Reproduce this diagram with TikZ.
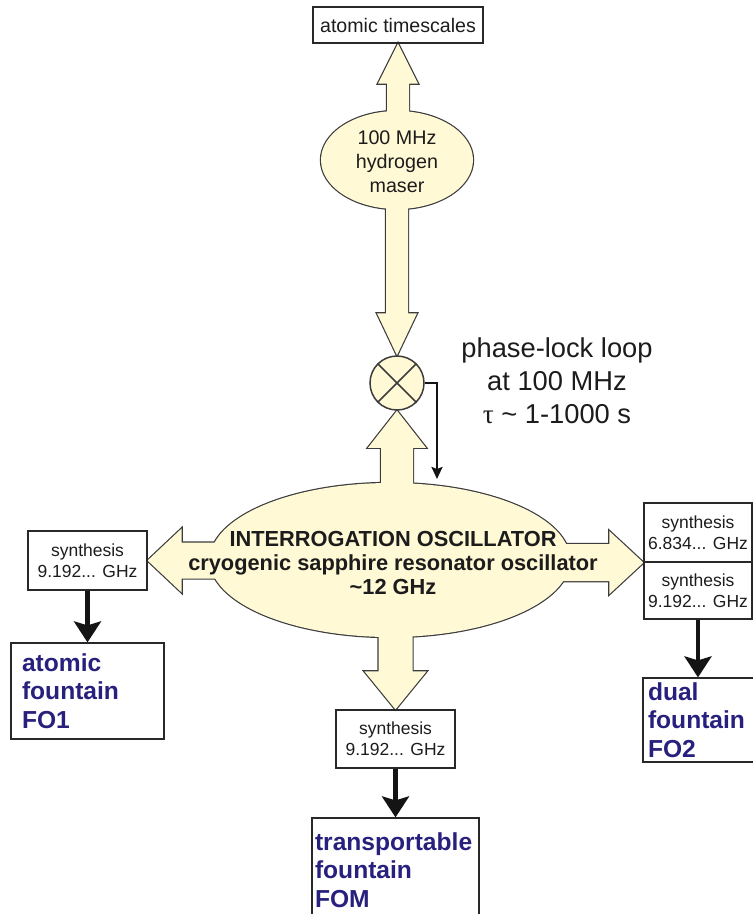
\documentclass[tikz,border=0pt]{standalone}
\usepackage{fontspec}
\setmainfont{Liberation Sans}
\newfontfamily\taufont{Liberation Serif}
\usetikzlibrary{calc,shapes.geometric,arrows.meta,backgrounds}
\definecolor{yel}{RGB}{255,249,214}
\definecolor{edgec}{RGB}{60,60,60}
\definecolor{boxc}{RGB}{40,40,40}
\definecolor{txt}{RGB}{28,28,28}
\definecolor{fblue}{RGB}{40,32,125}
\newcommand\fsz[2]{\fontsize{#1}{#2}\selectfont}
% block arrow geometry: name, start, tip, shaft half width, head half width, head length
\newcommand\defarrow[6]{%
  \coordinate (#1-t) at (#3);
  \coordinate (#1-b) at ($(#3)!#6!(#2)$);
  \coordinate (#1-1) at ($(#2)!#4!90:(#3)$);
  \coordinate (#1-2) at ($(#1-b)!#4!90:(#3)$);
  \coordinate (#1-3) at ($(#1-b)!#5!90:(#3)$);
  \coordinate (#1-4) at ($(#1-b)!#5!-90:(#3)$);
  \coordinate (#1-5) at ($(#1-b)!#4!-90:(#3)$);
  \coordinate (#1-6) at ($(#2)!#4!-90:(#3)$);
}
\newcommand\ap[1]{(#1-1) -- (#1-2) -- (#1-3) -- (#1-t) -- (#1-4) -- (#1-5) -- (#1-6) -- cycle}
\tikzset{
  plainbox/.style={draw=boxc, line width=1.2pt, rectangle, inner sep=0pt, text=txt},
  synthbox/.style={plainbox, minimum width=119pt, minimum height=59pt, align=center, font=\fsz{17.5pt}{21pt}},
  fountbox/.style={plainbox, align=left, text=fblue, font=\bfseries\fsz{24.6pt}{28.5pt}},
  blackarrow/.style={draw=black!92, line width=4.5pt, -{Stealth[length=21pt,width=27pt,inset=4pt]}},
  fbarrow/.style={draw=black!92, line width=2.2pt, -{Stealth[length=12pt,width=11pt,inset=2pt]}},
  lbl/.style={inner sep=0pt, align=center, text=txt},
  outl/.style={draw=edgec, line width=2.4pt, line join=miter},
  yfill/.style={fill=yel}
}
\begin{document}
\begin{tikzpicture}[x=1pt,y=-1pt]
\useasboundingbox (0,0) rectangle (753,914);

% top box and maser
\node[plainbox, minimum width=170pt, minimum height=36pt, font=\fsz{19.6pt}{24pt}] (ats) at (398,25) {atomic timescales};
\node[ellipse, minimum width=152pt, minimum height=98pt, inner sep=0pt] (maser) at (397,160) {};
\node[lbl, font=\fsz{19.7pt}{24pt}] (maserlabel) at (397,162) {100 MHz\\hydrogen\\maser};

% mixer
\node[circle, minimum size=54pt, inner sep=0pt, fill=yel, draw=edgec, line width=1.5pt] (mix) at (397,383) {};
\draw[edgec, line width=1.5pt] (mix.45) -- (mix.225) (mix.135) -- (mix.-45);

\node[lbl, font=\fsz{27.3pt}{33pt}] (pll) at (557,381) {phase-lock loop\\at 100 MHz\\{\taufont τ} \textasciitilde\ 1-1000 s};

% interrogation oscillator
\node[ellipse, minimum width=360pt, minimum height=154pt, inner sep=0pt] (osc) at (390,560) {};
\node[lbl, font=\bfseries\fsz{21.8pt}{24pt}] (osclabel) at (393,563) {INTERROGATION OSCILLATOR\\cryogenic sapphire resonator oscillator\\\textasciitilde 12 GHz};

% synthesis boxes
\node[synthbox] (synL) at (87.5,560.5) {synthesis\\9.192... GHz};
\node[synthbox, minimum width=108pt] (synR1) at (698,532.5) {synthesis\\6.834... GHz};
\node[synthbox, minimum width=108pt, minimum height=57pt] (synR2) at (698,590.5) {synthesis\\9.192... GHz};
\node[synthbox, minimum height=58pt] (synM) at (395.5,739) {synthesis\\9.192... GHz};

% fountains
\node[fountbox, minimum width=153pt, minimum height=96pt, text width=131pt, inner xsep=11pt] (fo1) at (87.5,691) {atomic\\fountain\\FO1};
\node[fountbox, minimum width=119pt, minimum height=84pt, text width=109pt, inner xsep=5pt] (fo2) at (702.5,720) {dual\\fountain\\FO2};
\node[fountbox, minimum width=167pt, minimum height=104pt, text width=161pt, inner xsep=3pt] (fom) at (395.5,870) {transportable\\fountain\\FOM};

% black arrows
\draw[blackarrow] (synL.south) -- (fo1.north);
\draw[blackarrow] (synM.south) -- (fom.north);
\draw[blackarrow] (synR2.south) -- (synR2.south |- fo2.north);

% feedback of the phase-lock loop
\coordinate (fbend) at (437,479);
\draw[fbarrow] (mix.east) -| (fbend);

% yellow block arrows
\coordinate (mS) at (ats.south |- maser.center);
\coordinate (oUs) at (mix.south |- osc.center);
\coordinate (oDs) at (synM.north |- osc.center);
\coordinate (oLs) at (osc.center |- synL.east);
\coordinate (oRs) at (osc.center |- synR1.south west);
\defarrow{aU}{mS}{ats.south}{11pt}{20pt}{40pt}
\defarrow{aD}{maser.center}{mix.north}{11pt}{20pt}{42pt}
\defarrow{oU}{oUs}{mix.south}{16pt}{29pt}{37pt}
\defarrow{oD}{oDs}{synM.north}{17pt}{31pt}{38pt}
\defarrow{oL}{oLs}{synL.east}{18pt}{32pt}{34pt}
\defarrow{oR}{oRs}{synR1.south west}{18.5pt}{31.5pt}{34pt}

\begin{pgfonlayer}{background}
  \foreach \s in {aU,aD,oU,oD,oL,oR} {\path[outl] \ap{\s};}
  \path[outl] (maser.center) ellipse [x radius=76pt, y radius=49pt];
  \path[outl] (osc.center) ellipse [x radius=180pt, y radius=77pt];
  \foreach \s in {aU,aD,oU,oD,oL,oR} {\path[yfill] \ap{\s};}
  \path[yfill] (maser.center) ellipse [x radius=76pt, y radius=49pt];
  \path[yfill] (osc.center) ellipse [x radius=180pt, y radius=77pt];
\end{pgfonlayer}
\end{tikzpicture}
\end{document}
